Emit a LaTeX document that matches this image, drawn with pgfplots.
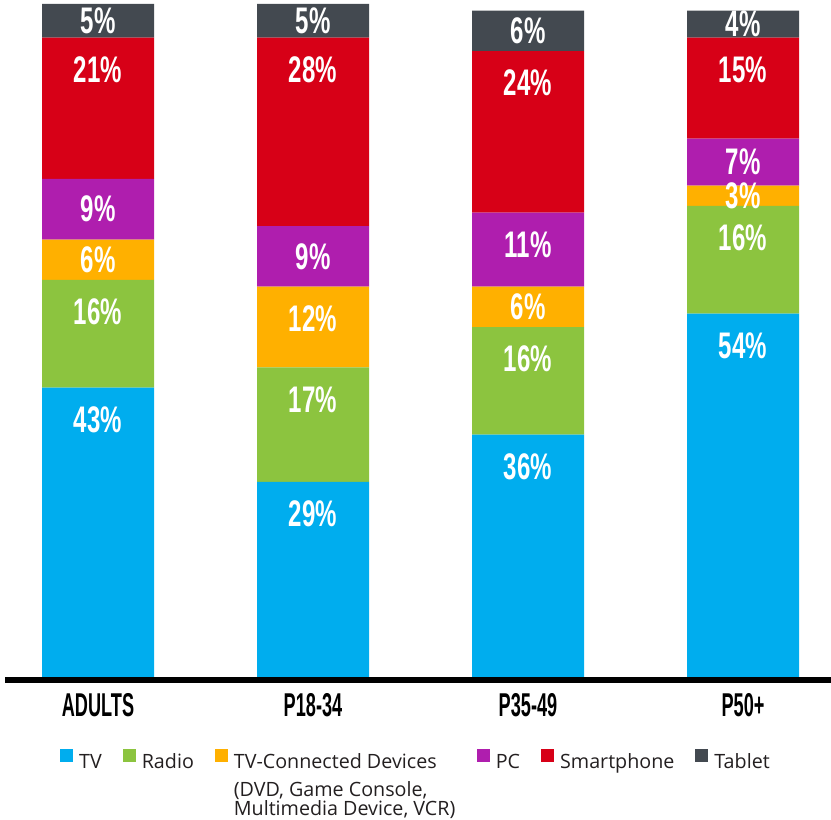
\documentclass[border=0pt]{standalone}
\usepackage{fontspec}
\setmainfont{Open Sans}
\newfontfamily\barfont{Liberation Sans}[FakeStretch=0.65]
\newfontfamily\catfont{Liberation Sans}[FakeStretch=0.55]
\usepackage{pgfplots}
\usepackage{pgfplotstable}
\pgfplotsset{compat=1.18}

\definecolor{ctv}{HTML}{00ADEE}
\definecolor{cradio}{HTML}{8CC43F}
\definecolor{ctvc}{HTML}{FFB000}
\definecolor{cpc}{HTML}{AF1EAE}
\definecolor{cphone}{HTML}{D70017}
\definecolor{ctab}{HTML}{434950}
\definecolor{txt}{HTML}{231F20}

% share of time by device, in %
\pgfplotstableread{
x tv radio tvc pc phone tablet
0 43 16 6  9  21 5
1 29 17 12 9  28 5
2 36 16 6  11 24 6
3 54 16 3  7  15 4
}\shares

\begin{document}
\begin{tikzpicture}
\useasboundingbox (0,0) rectangle (831bp,820bp);
\begin{axis}[
    name=ax,
    at={(5bp,143bp)}, anchor=south west,
    scale only axis, width=826bp, height=673bp,
    ybar stacked, bar width=112bp,
    xmin=-0.4326, xmax=3.4093, ymin=0, ymax=100,
    clip=false,
    xtick=data, xticklabels={ADULTS,P18-34,P35-49,P50+},
    ytick=\empty,
    axis line style={draw=none}, tick style={draw=none},
    xticklabel style={font=\catfont\bfseries\fontsize{33bp}{33bp}\selectfont,
        inner sep=0pt, anchor=north, yshift=-16bp},
    point meta=explicit,
    nodes near coords={\pgfmathprintnumber[assume math mode=true]{\pgfplotspointmeta}\%},
    % labels sit in the middle of short segments, near the top of tall ones
    every node near coord/.append style={
        font=\barfont\bfseries\fontsize{37bp}{37bp}\selectfont,
        text=white, anchor=center, inner sep=0pt,
        yshift={max(0,3.365*\val-32)*1bp}},
    legend columns=-1,
    legend cell align=left,
    legend image code/.code={\fill[#1] (0bp,0bp) rectangle (13bp,13bp);
        \path (17bp,0bp);},
    legend style={draw=none, fill=none, inner sep=0pt,
        at={(0.0666,-0.107)}, anchor=north west,
        font=\fontsize{19.7bp}{19.5bp}\selectfont, text=txt,
        /tikz/every even column/.append style={column sep=19bp}},
]
\addplot[fill=ctv, draw=none, visualization depends on={\thisrow{tv}\as\val}]
    table[x=x, y=tv, meta=tv]{\shares};
\addplot[fill=cradio, draw=none, visualization depends on={\thisrow{radio}\as\val}]
    table[x=x, y=radio, meta=radio]{\shares};
\addplot[fill=ctvc, draw=none, visualization depends on={\thisrow{tvc}\as\val}]
    table[x=x, y=tvc, meta=tvc]{\shares};
\addplot[fill=cpc, draw=none, visualization depends on={\thisrow{pc}\as\val}]
    table[x=x, y=pc, meta=pc]{\shares};
\addplot[fill=cphone, draw=none, visualization depends on={\thisrow{phone}\as\val}]
    table[x=x, y=phone, meta=phone]{\shares};
\addplot[fill=ctab, draw=none, visualization depends on={\thisrow{tablet}\as\val}]
    table[x=x, y=tablet, meta=tablet]{\shares};
\legend{TV, Radio,
    {\parbox[t]{222bp}{TV-Connected Devices\\[8bp](DVD, Game Console,\\Multimedia Device, VCR)}},
    PC, Smartphone, Tablet}
\end{axis}
\draw[line width=6bp, black] ([yshift=-3bp]ax.south west) -- ([yshift=-3bp]ax.south east);
\end{tikzpicture}
\end{document}
